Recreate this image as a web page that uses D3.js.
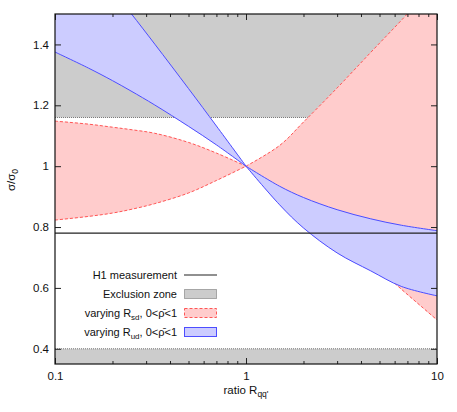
<!DOCTYPE html>
<html><head><meta charset="utf-8">
<script src="https://cdn.jsdelivr.net/npm/d3@7"></script>
<style>body{margin:0;background:#fff}svg{display:block}text{font-family:"Liberation Sans",Arial,Helvetica,sans-serif}</style>
</head><body>
<svg id="c" width="457" height="412"></svg>
<script>
// ratio R_qq' sample positions (R = 1 is the common crossing point)
const ratio = [0.1, 0.15, 0.2, 0.25, 0.333, 0.5, 0.7, 1, 1.5, 2, 3, 4.5, 6.5, 10];
// varying R_sd band (red): upper and lower edges
const rsdUpper = [1.148, 1.138, 1.128, 1.120, 1.108, 1.078, 1.043, 1.0, 1.068, 1.145, 1.257, 1.374, 1.479, 1.605];
const rsdLower = [0.823, 0.835, 0.846, 0.858, 0.877, 0.912, 0.953, 1.0, 0.89, 0.835, 0.765, 0.685, 0.596, 0.495];
// varying R_ud band (blue): steep and shallow edges
const rudSteep   = [1.82, 1.677, 1.577, 1.502, 1.401, 1.255, 1.132, 1.0, 0.873, 0.797, 0.715, 0.656, 0.605, 0.574];
const rudShallow = [1.375, 1.322, 1.281, 1.247, 1.201, 1.131, 1.070, 1.0, 0.934, 0.897, 0.857, 0.827, 0.806, 0.788];
// reference levels
const h1Measurement = 0.78;
const exclusionUpper = [1.16, 1.5];
const exclusionLower = [0.35, 0.4];
// ticks
const yTicks = [0.4, 0.6, 0.8, 1, 1.2, 1.4];
const xMajor = [0.1, 1, 10];
const xMinor = [0.2,0.3,0.4,0.5,0.6,0.7,0.8,0.9,2,3,4,5,6,7,8,9];

const svg = d3.select("#c");
const L = 55, R = 437, T = 14, B = 364;
const x = d3.scaleLog().domain([0.1, 10]).range([L, R]);
const y = d3.scaleLinear().domain([0.35, 1.5]).range([B, T]);

svg.append("defs").append("clipPath").attr("id","pc")
  .append("rect").attr("x",L).attr("y",T).attr("width",R-L).attr("height",B-T);
const g = svg.append("g").attr("clip-path","url(#pc)");

// exclusion zones
[exclusionUpper, exclusionLower].forEach(z => {
  g.append("rect").attr("x",L).attr("width",R-L)
    .attr("y", y(z[1])).attr("height", y(z[0]) - y(z[1])).attr("fill","#cccccc");
});
[exclusionUpper[0], exclusionLower[1]].forEach(v => {
  g.append("line").attr("x1",L).attr("x2",R).attr("y1",y(v)).attr("y2",y(v))
    .attr("stroke","#777").attr("stroke-width",1).attr("stroke-dasharray","1,1");
});

// split index ranges at the crossing point R = 1 so each branch is smooth
const mid = ratio.indexOf(1);
const halves = [d3.range(0, mid + 1), d3.range(mid, ratio.length)];
const curve = d3.curveCatmullRom.alpha(0.5);

function band(lo, hi, fill) {
  halves.forEach(h => {
    g.append("path").datum(h)
      .attr("d", d3.area().x(i=>x(ratio[i])).y0(i=>y(lo[i])).y1(i=>y(hi[i])).curve(curve))
      .attr("fill", fill).attr("stroke", fill).attr("stroke-width", 0.5);
  });
}
function edge(arr, color, dash) {
  halves.forEach(h => {
    g.append("path").datum(h)
      .attr("d", d3.line().x(i=>x(ratio[i])).y(i=>y(arr[i])).curve(curve))
      .attr("fill","none").attr("stroke",color).attr("stroke-width",1).attr("stroke-dasharray",dash);
  });
}
// red band
band(rsdLower, rsdUpper, "#ffcccc");
edge(rsdUpper, "#ff5555", "3,2");
edge(rsdLower, "#ff5555", "3,2");
// blue band
band(rudShallow, rudSteep, "#ccccff");
edge(rudSteep, "#4d4dff", null);
edge(rudShallow, "#4d4dff", null);

// H1 line
g.append("line").attr("x1",L).attr("x2",R).attr("y1",y(h1Measurement)).attr("y2",y(h1Measurement))
  .attr("stroke","#222").attr("stroke-width",1.2);

// axes
const fs = "11.5px";
function style(sel){ sel.select(".domain").remove(); sel.selectAll("line").attr("stroke","#222");
  sel.selectAll("text").attr("fill","#111").style("font-size",fs).style("font-family",'"Liberation Sans",Arial,sans-serif'); }
svg.append("g").attr("transform",`translate(${L},0)`)
  .call(d3.axisLeft(y).tickValues(yTicks).tickSize(-6).tickPadding(6).tickFormat(d3.format("")))
  .call(style);
svg.append("g").attr("transform",`translate(${R},0)`)
  .call(d3.axisRight(y).tickValues(yTicks).tickSize(-6).tickFormat(""))
  .call(style);
svg.append("g").attr("transform",`translate(0,${B})`)
  .call(d3.axisBottom(x).tickValues(xMajor).tickSize(-6).tickPadding(8).tickFormat(d3.format("")))
  .call(style);
svg.append("g").attr("transform",`translate(0,${B})`)
  .call(d3.axisBottom(x).tickValues(xMinor).tickSize(-3).tickFormat(""))
  .call(style);
svg.append("g").attr("transform",`translate(0,${T})`)
  .call(d3.axisTop(x).tickValues(xMajor).tickSize(-6).tickFormat(""))
  .call(style);
svg.append("g").attr("transform",`translate(0,${T})`)
  .call(d3.axisTop(x).tickValues(xMinor).tickSize(-3).tickFormat(""))
  .call(style);

// frame
svg.append("rect").attr("x",L).attr("y",T).attr("width",R-L).attr("height",B-T)
  .attr("fill","none").attr("stroke","#111").attr("stroke-width",1.2);

// axis titles
const xt = svg.append("text").attr("x",246).attr("y",394).attr("text-anchor","middle")
  .style("font-size","11.5px").attr("fill","#111");
xt.append("tspan").text("ratio R");
xt.append("tspan").attr("dy",3).style("font-size","8.5px").text("qq'");

const yt = svg.append("text").attr("transform","translate(15,180) rotate(-90)").attr("text-anchor","middle")
  .style("font-size","11.5px").attr("fill","#111");
yt.append("tspan").text("σ/σ");
yt.append("tspan").attr("dy",3).style("font-size","8.5px").text("0");

// legend
const lg = svg.append("g").style("font-size","11px");
const rows = [
  {label:["H1 measurement"], y:275, kind:"line"},
  {label:["Exclusion zone"], y:294, kind:"excl"},
  {label:["varying R","sd",", 0<ρ̄<1"], y:313, kind:"rsd"},
  {label:["varying R","ud",", 0<ρ̄<1"], y:332, kind:"rud"}
];
rows.forEach(r => {
  const t = lg.append("text").attr("x",177).attr("y",r.y+4).attr("text-anchor","end").attr("fill","#111");
  t.append("tspan").text(r.label[0]);
  if (r.label.length > 1) {
    t.append("tspan").attr("dy",3).style("font-size","8px").text(r.label[1]);
    t.append("tspan").attr("dy",-3).text(r.label[2]);
  }
  if (r.kind === "line") {
    lg.append("line").attr("x1",184).attr("x2",217).attr("y1",r.y).attr("y2",r.y).attr("stroke","#222").attr("stroke-width",1.2);
  } else {
    const st = {excl:["#cccccc","#666","1,1"], rsd:["#ffcccc","#ff5555","3,2"], rud:["#ccccff","#4d4dff",null]}[r.kind];
    lg.append("rect").attr("x",184.5).attr("y",r.y-4.5).attr("width",32).attr("height",9)
      .attr("fill",st[0]).attr("stroke",st[1]).attr("stroke-width",1).attr("stroke-dasharray",st[2]);
  }
});
</script>
</body></html>
